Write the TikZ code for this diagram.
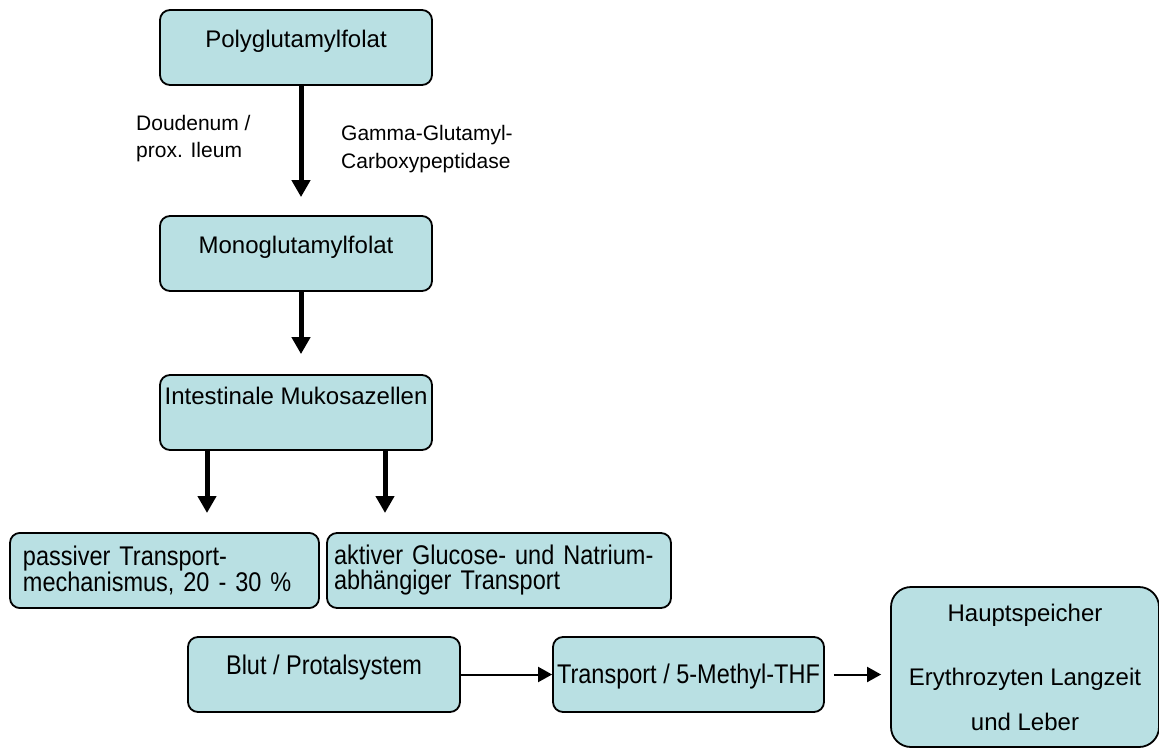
\documentclass[tikz,border=0pt]{standalone}
\usepackage{fontspec}
\setmainfont{Liberation Sans}
\newfontfamily\tallfont[FakeStretch=0.87]{Liberation Sans}
\usetikzlibrary{arrows.meta, positioning, calc}
\definecolor{folatfill}{RGB}{185,224,227}

\begin{document}
\begin{tikzpicture}[x=1pt, y=-1pt,
    box/.style={rectangle, draw, line width=1.8pt, rounded corners=10pt, fill=folatfill, inner sep=3pt, minimum width=272pt, minimum height=75pt, font=\fontsize{24}{24}\selectfont},
    mid/.style={text height=17pt, text depth=17pt},
    tall/.style={font=\tallfont\fontsize{27}{25}\selectfont},
    info/.style={box, tall, align=left},
    note/.style={align=left, inner sep=0pt, anchor=north west, font=\fontsize{21}{27}\selectfont},
    fat/.style={-{Triangle[length=17pt, width=18pt]}, line width=5pt},
    flow/.style={-{Triangle[length=14pt, width=15pt]}, line width=2pt}
]
\useasboundingbox (0,0) rectangle (1159,749);

\node[box, mid] (poly) at (296,47.5) {Polyglutamylfolat};
\node[box, mid] (mono) at (296,253.5) {Monoglutamylfolat};
\node[box, text height=10pt, text depth=27pt] (mukosa) at (296,412.5) {Intestinale Mukosazellen};

\node[info, text width=283pt, inner sep=13pt] (passiv) at (164.5,570.5) {passiver Transport-\\mechanismus, 20 - 30 \%};
\node[info, text width=330pt, inner sep=7pt] (aktiv) at (499,570.5) {aktiver Glucose- und Natrium-\\abhängiger Transport};

\node[box, tall, mid] (blut) at (324,674.5) {Blut / Protalsystem};
\node[box, tall, text height=27pt, text depth=10pt, inner xsep=1pt, minimum width=271pt] (trans) at (688.5,674.5) {Transport / 5-Methyl-THF};
\node[box, rounded corners=20pt, minimum width=268pt, minimum height=160pt, align=center] (speicher) at (1025,667) {Hauptspeicher\\[40pt]Erythrozyten Langzeit\\[21pt]und Leber};

\node[note] (ort) at (136,114.7) {Doudenum /\\prox. Ileum};
\node[note, font=\fontsize{21}{28}\selectfont] (enzym) at (341,124.7) {Gamma-Glutamyl-\\Carboxypeptidase};

\coordinate (zupassiv) at (207,513);
\coordinate (zuaktiv) at (385,513);

\draw[fat] ([xshift=5pt]poly.south) -- ([xshift=5pt, yshift=18pt]mono.north);
\draw[fat] ([xshift=5pt]mono.south) -- ([xshift=5pt, yshift=20pt]mukosa.north);
\draw[fat] (mukosa.south -| zupassiv) -- (zupassiv);
\draw[fat] (mukosa.south -| zuaktiv) -- (zuaktiv);
\draw[flow] (blut) -- (trans);
\draw[flow, shorten <=9pt, shorten >=9pt] (trans.east) -- (trans.east -| speicher.west);

\end{tikzpicture}
\end{document}
